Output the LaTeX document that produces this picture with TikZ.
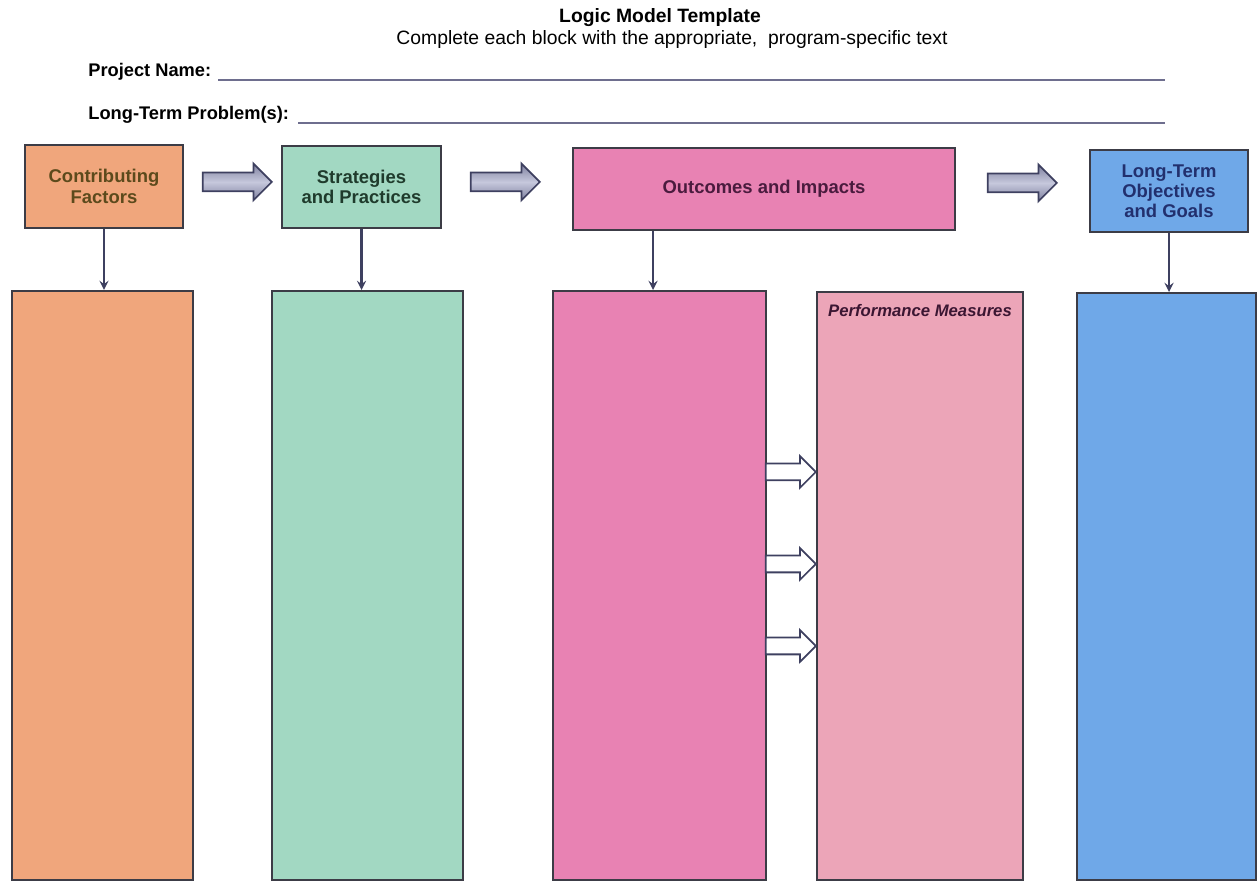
\documentclass[tikz,border=0pt]{standalone}
\usepackage{fontspec}
\setmainfont{Liberation Sans}
\usetikzlibrary{shapes.arrows, arrows, positioning}

\definecolor{factorfill}{HTML}{F0A67C}
\definecolor{strategyfill}{HTML}{A2D8C2}
\definecolor{outcomefill}{HTML}{E882B3}
\definecolor{measurefill}{HTML}{ECA5B8}
\definecolor{goalfill}{HTML}{6FA8E8}
\definecolor{boxline}{HTML}{3C3C46}
\definecolor{arrowline}{HTML}{3E4060}
\definecolor{ruleline}{HTML}{6E6E8E}
\definecolor{factortext}{HTML}{5C4A1C}
\definecolor{strategytext}{HTML}{1F3B2C}
\definecolor{outcometext}{HTML}{4A1B3E}
\definecolor{goaltext}{HTML}{22306E}
\definecolor{shadedark}{HTML}{7E809F}
\definecolor{shadelight}{HTML}{C6C8DC}

\tikzstyle{topbox} = [rectangle, draw=boxline, line width=1.2pt, align=center, inner sep=0pt, font=\bfseries\fontsize{10.5}{11.5}\selectfont]
\tikzstyle{column} = [rectangle, draw=boxline, line width=1.2pt, inner sep=0pt]
\tikzstyle{arrow} = [line width=1.3pt, draw=arrowline, ->, >=stealth]
\tikzstyle{blockarrow} = [single arrow, anchor=tip, draw=arrowline, line width=1pt, top color=shadedark, bottom color=shadedark, middle color=shadelight, minimum height=1.38cm, inner sep=0.17cm, single arrow head extend=0.18cm]
\tikzstyle{hollowarrow} = [single arrow, anchor=tip, draw=arrowline, fill=white, line width=1pt, minimum height=1.0cm, inner sep=0.15cm, single arrow head extend=0.15cm]
\tikzstyle{ruled} = [draw=ruleline, line width=1.2pt]

\begin{document}
\begin{tikzpicture}[x=0.02cm, y=-0.02cm]
    \useasboundingbox (0,0) rectangle (1259,884);

    % heading
    \node (title) at (660,18) {\bfseries\fontsize{11}{13}\selectfont Logic Model Template};
    \node (subtitle) at (672,40) {\fontsize{11}{13}\selectfont Complete each block with the appropriate,\ \ program-specific text};
    \node (projname) [anchor=west, inner sep=0pt] at (88,72) {\bfseries\fontsize{10.4}{12}\selectfont Project Name:};
    \node (problem) [anchor=west, inner sep=0pt] at (88,115) {\bfseries\fontsize{10.4}{12}\selectfont Long-Term Problem(s):};
    \draw [ruled] (218,80) -- (1165,80);
    \draw [ruled] (298,123) -- (1165,123);

    % top row
    \node (factors) [topbox, fill=factorfill, text=factortext, minimum width=3.16cm, minimum height=1.66cm] at (104,186.5) {Contributing\\Factors};
    \node (strategies) [topbox, fill=strategyfill, text=strategytext, minimum width=3.18cm, minimum height=1.64cm] at (361.5,187) {Strategies\\and Practices};
    \node (outcomes) [topbox, fill=outcomefill, text=outcometext, minimum width=7.64cm, minimum height=1.64cm] at (764,189) {Outcomes and Impacts};
    \node (goals) [topbox, fill=goalfill, text=goaltext, minimum width=3.16cm, minimum height=1.64cm] at (1169,191) {Long-Term\\Objectives\\and Goals};

    \node (step1) [blockarrow] at (273,182) {};
    \node (step2) [blockarrow] at (541,182) {};
    \node (step3) [blockarrow] at (1058,183) {};

    % columns
    \node (factorscol) [column, fill=factorfill, minimum width=3.62cm, minimum height=11.78cm] at (102.5,585.5) {};
    \node (strategiescol) [column, fill=strategyfill, minimum width=3.82cm, minimum height=11.78cm] at (367.5,585.5) {};
    \node (outcomescol) [column, fill=outcomefill, minimum width=4.26cm, minimum height=11.78cm] at (659.5,585.5) {};
    \node (measures) [column, fill=measurefill, minimum width=4.12cm, minimum height=11.76cm] at (920,586) {};
    \node (goalscol) [column, fill=goalfill, minimum width=3.58cm, minimum height=11.74cm] at (1166.5,586.5) {};
    \node (measurelabel) [below=0.22cm of measures.north, inner sep=1pt, text=outcometext!80!black] {\bfseries\itshape\fontsize{9.5}{11}\selectfont Performance Measures};

    \coordinate (outx) at (653,0);
    \draw [arrow] (factors.south) -- (factors.south |- factorscol.north);
    \draw [arrow] (strategies.south) -- (strategies.south |- strategiescol.north);
    \draw [arrow] (outcomes.south -| outx) -- (outcomescol.north -| outx);
    \draw [arrow] (goals.south) -- (goals.south |- goalscol.north);

    % into performance measures
    \node (feed1) [hollowarrow] at (817,472) {};
    \node (feed2) [hollowarrow] at (817,564) {};
    \node (feed3) [hollowarrow] at (817,646) {};
\end{tikzpicture}
\end{document}
